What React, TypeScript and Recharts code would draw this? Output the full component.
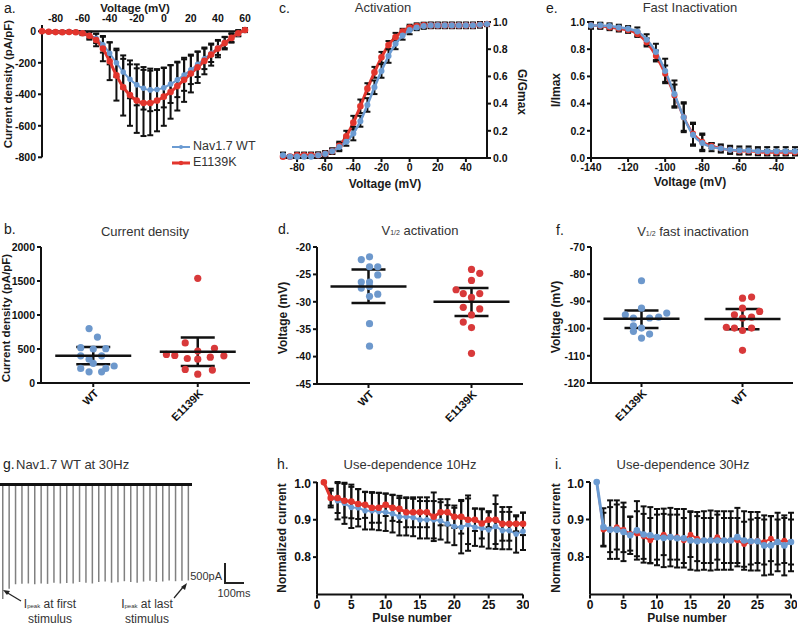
import React from "react";
import {
  LineChart,
  Line,
  XAxis,
  YAxis,
  ErrorBar,
  ScatterChart,
  Scatter,
  BarChart,
  Bar,
  ReferenceLine,
} from "recharts";

const BLUE = "#6b9bd2";
const RED = "#e2352d";
const DOT_BLUE = "#6d98cc";
const DOT_RED = "#d8393a";
const INK = "#111";
const FONT = "'Liberation Sans', Arial, Helvetica, sans-serif";

// a. current density vs voltage
const ivVoltage = [-90, -85, -80, -75, -70, -65, -60, -55, -50, -45, -40, -35, -30, -25, -20, -15, -10, -5, 0, 5, 10, 15, 20, 25, 30, 35, 40, 45, 50, 55, 60];
const ivWt = [0, -2, -3, -3, -2, -5, -10, -25, -45, -85, -140, -200, -258, -305, -340, -362, -372, -370, -358, -335, -308, -278, -245, -210, -175, -140, -105, -72, -42, -15, 5];
const ivWtSd = [0, 3, 4, 4, 4, 6, 10, 20, 30, 50, 70, 90, 105, 120, 130, 135, 135, 130, 125, 120, 110, 100, 90, 80, 65, 55, 45, 35, 25, 15, 10];
const ivMut = [0, -3, -5, -6, -4, -6, -12, -28, -55, -110, -190, -280, -355, -405, -440, -455, -455, -440, -415, -385, -348, -308, -268, -228, -188, -148, -110, -75, -42, -12, 8];
const ivMutSd = [0, 5, 6, 6, 5, 6, 12, 25, 40, 80, 120, 160, 180, 195, 205, 210, 205, 195, 185, 170, 155, 140, 120, 100, 85, 70, 55, 40, 30, 20, 12];

// c. activation
const actVoltage = [-90, -85, -80, -75, -70, -65, -60, -55, -50, -45, -40, -35, -30, -25, -20, -15, -10, -5, 0, 5, 10, 15, 20, 25, 30, 35, 40, 45, 50, 55];
const actWt = [0.02, 0.01, 0.01, 0.01, 0.01, 0.02, 0.03, 0.05, 0.08, 0.12, 0.18, 0.27, 0.39, 0.52, 0.64, 0.75, 0.84, 0.9, 0.94, 0.96, 0.97, 0.975, 0.975, 0.975, 0.975, 0.975, 0.975, 0.975, 0.98, 0.985];
const actWtSd = [0.02, 0.01, 0.01, 0.01, 0.01, 0.02, 0.02, 0.02, 0.03, 0.03, 0.05, 0.04, 0.05, 0.05, 0.05, 0.05, 0.04, 0.03, 0.03, 0.02, 0.02, 0.02, 0.02, 0.02, 0.02, 0.02, 0.02, 0.02, 0.02, 0.015];
const actMut = [0.01, 0.01, 0.02, 0.02, 0.02, 0.02, 0.03, 0.05, 0.09, 0.16, 0.26, 0.38, 0.51, 0.63, 0.74, 0.83, 0.89, 0.93, 0.96, 0.97, 0.975, 0.975, 0.975, 0.975, 0.975, 0.975, 0.975, 0.975, 0.98, 0.985];
const actMutSd = [0.01, 0.01, 0.02, 0.02, 0.02, 0.02, 0.02, 0.02, 0.03, 0.04, 0.05, 0.05, 0.04, 0.04, 0.04, 0.03, 0.03, 0.02, 0.02, 0.02, 0.02, 0.02, 0.02, 0.02, 0.02, 0.02, 0.02, 0.02, 0.02, 0.015];

// e. fast inactivation
const inVoltage = [-140, -135, -130, -125, -120, -115, -110, -105, -100, -95, -90, -85, -80, -75, -70, -65, -60, -55, -50, -45, -40, -35, -30];
const inWt = [0.975, 0.975, 0.97, 0.96, 0.95, 0.93, 0.87, 0.78, 0.64, 0.47, 0.3, 0.17, 0.11, 0.08, 0.07, 0.06, 0.055, 0.055, 0.05, 0.05, 0.05, 0.05, 0.05];
const inWtSd = [0.025, 0.02, 0.02, 0.02, 0.02, 0.03, 0.04, 0.06, 0.09, 0.1, 0.11, 0.08, 0.06, 0.03, 0.03, 0.03, 0.03, 0.03, 0.03, 0.03, 0.03, 0.03, 0.03];
const inMut = [0.975, 0.97, 0.96, 0.95, 0.94, 0.91, 0.85, 0.75, 0.62, 0.46, 0.3, 0.18, 0.12, 0.09, 0.07, 0.06, 0.05, 0.05, 0.045, 0.04, 0.04, 0.04, 0.04];
const inMutSd = [0.02, 0.02, 0.02, 0.02, 0.02, 0.02, 0.03, 0.04, 0.06, 0.08, 0.1, 0.08, 0.06, 0.02, 0.02, 0.02, 0.02, 0.02, 0.02, 0.02, 0.02, 0.02, 0.02];

// b. current density per cell, [x position, value]
const bCats = ["WT", "E1139K"];
const bWt = [[0.96, 800], [1.04, 675], [0.88, 520], [1.0, 500], [1.12, 505], [0.88, 400], [1.08, 400], [0.96, 350], [1.0, 290], [1.2, 250], [0.88, 215], [1.12, 215], [0.96, 165], [1.08, 165]];
const bMut = [[2.0, 1540], [1.88, 590], [2.16, 510], [1.7, 420], [1.78, 405], [2.0, 470], [2.25, 400], [2.12, 380], [1.9, 360], [2.0, 350], [1.88, 200], [2.14, 190], [2.0, 130]];
const bMean = [400, 460];
const bSdLow = [275, 250];
const bSdHigh = [530, 670];

// d. V1/2 activation
const dCats = ["WT", "E1139K"];
const dWt = [[0.93, -22.3], [1.01, -21.8], [1.01, -23.6], [1.09, -23.6], [1.09, -25.1], [0.93, -26.4], [1.01, -26.4], [0.93, -27.5], [1.01, -27.2], [1.01, -29.0], [1.09, -28.6], [1.01, -34.0], [1.01, -38.1]];
const dMut = [[2.0, -24.1], [2.08, -24.8], [2.0, -26.1], [1.85, -27.8], [1.92, -28.5], [2.08, -28.5], [2.0, -29.2], [1.92, -31.0], [2.08, -31.3], [2.0, -32.4], [1.92, -33.7], [2.0, -34.7], [2.0, -39.4]];
const dMean = [-27.2, -30.0];
const dSdLow = [-30.2, -32.6];
const dSdHigh = [-24.1, -27.5];

// f. V1/2 fast inactivation
const fCats = ["E1139K", "WT"];
const fFirst = [[1.0, -82.4], [1.0, -92.5], [0.84, -94.9], [1.25, -94.3], [0.92, -96.1], [1.08, -96.1], [1.17, -95.8], [0.92, -99.0], [1.0, -99.8], [0.92, -101.0], [1.08, -102.0], [1.0, -103.5]];
const fSecond = [[2.0, -88.8], [2.09, -88.4], [2.0, -92.5], [1.92, -94.9], [2.17, -93.7], [2.09, -95.8], [2.0, -96.1], [1.84, -99.5], [1.92, -99.8], [2.09, -99.8], [2.0, -100.7], [2.0, -108.0]];
const fMean = [-96.4, -96.5];
const fSdLow = [-99.8, -100.2];
const fSdHigh = [-93.3, -92.8];

// g. raw trace, peak current of each of the 30 pulses (pA)
const spikePeaks = [-3050, -2780, -2660, -2650, -2640, -2660, -2640, -2650, -2620, -2640, -2630, -2640, -2600, -2620, -2640, -2600, -2590, -2620, -2610, -2580, -2600, -2620, -2590, -2570, -2600, -2590, -2560, -2580, -2570, -2560];

// h / i. use-dependence
const pulses = [1, 2, 3, 4, 5, 6, 7, 8, 9, 10, 11, 12, 13, 14, 15, 16, 17, 18, 19, 20, 21, 22, 23, 24, 25, 26, 27, 28, 29, 30];
const hMut = [1.0, 0.958, 0.958, 0.951, 0.949, 0.942, 0.94, 0.932, 0.932, 0.94, 0.932, 0.929, 0.92, 0.92, 0.92, 0.92, 0.908, 0.92, 0.92, 0.908, 0.908, 0.9, 0.9, 0.89, 0.9, 0.9, 0.889, 0.889, 0.889, 0.889];
const hMutSd = [0, 0.025, 0.04, 0.045, 0.045, 0.04, 0.035, 0.04, 0.04, 0.03, 0.035, 0.035, 0.04, 0.04, 0.04, 0.04, 0.065, 0.035, 0.035, 0.03, 0.045, 0.065, 0.03, 0.04, 0.02, 0.065, 0.045, 0.045, 0.02, 0.03];
const hWt = [1.0, 0.958, 0.951, 0.944, 0.933, 0.932, 0.924, 0.924, 0.922, 0.92, 0.916, 0.908, 0.908, 0.906, 0.9, 0.9, 0.9, 0.897, 0.889, 0.882, 0.88, 0.887, 0.88, 0.878, 0.873, 0.882, 0.871, 0.871, 0.862, 0.869];
const hWtSd = [0, 0.02, 0.05, 0.055, 0.055, 0.05, 0.05, 0.05, 0.05, 0.05, 0.05, 0.05, 0.05, 0.05, 0.05, 0.05, 0.05, 0.05, 0.05, 0.05, 0.07, 0.07, 0.05, 0.05, 0.05, 0.06, 0.05, 0.05, 0.05, 0.05];
const iMut = [1.0, 0.873, 0.873, 0.88, 0.873, 0.862, 0.862, 0.855, 0.844, 0.853, 0.86, 0.853, 0.853, 0.844, 0.86, 0.849, 0.844, 0.844, 0.853, 0.844, 0.844, 0.844, 0.834, 0.84, 0.844, 0.84, 0.849, 0.84, 0.844, 0.84];
const iMutSd = [0, 0.045, 0.06, 0.06, 0.06, 0.045, 0.06, 0.06, 0.06, 0.06, 0.055, 0.06, 0.06, 0.06, 0.06, 0.06, 0.06, 0.06, 0.06, 0.06, 0.06, 0.06, 0.06, 0.06, 0.06, 0.06, 0.06, 0.06, 0.06, 0.06];
const iWt = [1.0, 0.88, 0.873, 0.873, 0.867, 0.858, 0.871, 0.86, 0.858, 0.853, 0.851, 0.853, 0.85, 0.85, 0.844, 0.842, 0.844, 0.844, 0.844, 0.844, 0.844, 0.853, 0.844, 0.842, 0.842, 0.831, 0.831, 0.84, 0.831, 0.84];
const iWtSd = [0, 0.05, 0.078, 0.078, 0.078, 0.05, 0.078, 0.075, 0.075, 0.075, 0.078, 0.078, 0.078, 0.078, 0.078, 0.078, 0.078, 0.08, 0.078, 0.078, 0.078, 0.078, 0.078, 0.078, 0.078, 0.08, 0.078, 0.078, 0.08, 0.078];

const ivData = ivVoltage.map((v, i) => ({ v, wt: ivWt[i], wtSd: ivWtSd[i], mut: ivMut[i], mutSd: ivMutSd[i] }));
const actData = actVoltage.map((v, i) => ({ v, wt: actWt[i], wtSd: actWtSd[i], mut: actMut[i], mutSd: actMutSd[i] }));
const inData = inVoltage.map((v, i) => ({ v, wt: inWt[i], wtSd: inWtSd[i], mut: inMut[i], mutSd: inMutSd[i] }));
const spikeData = spikePeaks.map((v, i) => ({ n: i + 1, v }));
const hData = pulses.map((p, i) => ({ p, wt: hWt[i], wtSd: hWtSd[i], mut: hMut[i], mutSd: hMutSd[i] }));
const iData = pulses.map((p, i) => ({ p, wt: iWt[i], wtSd: iWtSd[i], mut: iMut[i], mutSd: iMutSd[i] }));

const pts = (arr: number[][]) => arr.map(([x, y]) => ({ x, y }));
const means = (m: number[], lo: number[], hi: number[]) =>
  m.map((y, i) => ({ x: i + 1, y, err: [y - lo[i], hi[i] - y] }));

const PAD = 6;
function frame(x0: number, y0: number, x1: number, y1: number, axL: number, axR: number, axT: number, axB: number) {
  return {
    style: { position: "absolute" as const, left: x0 - axL - PAD, top: y0 - axT - PAD },
    width: x1 - x0 + axL + axR + 2 * PAD,
    height: y1 - y0 + axT + axB + 2 * PAD,
    margin: { top: PAD, right: PAD, bottom: PAD, left: PAD },
  };
}

const axisProps = {
  axisLine: { stroke: INK, strokeWidth: 2 },
  tickLine: { stroke: INK, strokeWidth: 2 },
  tickSize: 4,
  tick: { fontSize: 10.5, fontWeight: 700, fill: INK, fontFamily: FONT },
};
const errProps = { stroke: INK, strokeWidth: 2 };
const oneDec = (v: number) => v.toFixed(1);

function Txt(props: { x: number; y: number; children: React.ReactNode; size?: number; bold?: boolean; anchor?: "start" | "middle" | "end"; rotate?: number; color?: string }) {
  const { x, y, children, size = 12, bold = false, anchor = "start", rotate = 0, color = "#1a1a1a" } = props;
  const tx = anchor === "middle" || rotate !== 0 ? "-50%" : anchor === "end" ? "-100%" : "0";
  return (
    <div
      style={{
        position: "absolute",
        left: x,
        top: y,
        transform: `translate(${tx}, -50%) rotate(${rotate}deg)`,
        fontSize: size,
        fontWeight: bold ? 700 : 400,
        color,
        whiteSpace: "nowrap",
        lineHeight: 1.1,
      }}
    >
      {children}
    </div>
  );
}

const catTick = (names: string[]) => (props: any) => {
  const { x, y, payload } = props;
  const name = names[Math.round(payload.value) - 1];
  const ax = x + 6;
  const ay = y + 5;
  return (
    <text x={ax} y={ay} textAnchor="end" transform={`rotate(-45 ${ax} ${ay})`} fontSize={11} fontWeight={700} fill={INK} fontFamily={FONT}>
      {name}
    </text>
  );
};

const dotShape = (color: string) => (p: any) => <circle cx={p.cx} cy={p.cy} r={3.6} fill={color} />;
const meanShape = (p: any) => <line x1={p.cx - 38} x2={p.cx + 38} y1={p.cy} y2={p.cy} stroke={INK} strokeWidth={2.5} />;

function DotPlot(props: {
  f: ReturnType<typeof frame>;
  axW: number;
  domain: [number, number];
  ticks: number[];
  cats: string[];
  first: number[][];
  second: number[][];
  m: number[];
  lo: number[];
  hi: number[];
}) {
  const { f, axW, domain, ticks, cats, first, second, m, lo, hi } = props;
  return (
    <div style={f.style}>
      <ScatterChart width={f.width} height={f.height} margin={f.margin}>
        <XAxis type="number" dataKey="x" domain={[0.5, 2.5]} ticks={[1, 2]} height={45} {...axisProps} tick={catTick(cats)} />
        <YAxis type="number" dataKey="y" domain={domain} ticks={ticks} width={axW} {...axisProps} />
        <Scatter data={pts(first)} shape={dotShape(DOT_BLUE)} isAnimationActive={false} />
        <Scatter data={pts(second)} shape={dotShape(DOT_RED)} isAnimationActive={false} />
        <Scatter data={means(m, lo, hi)} shape={meanShape} isAnimationActive={false}>
          <ErrorBar dataKey="err" direction="y" width={17} stroke={INK} strokeWidth={2.5} />
        </Scatter>
      </ScatterChart>
    </div>
  );
}

function PulsePlot(props: { f: ReturnType<typeof frame>; axW: number; data: any[]; blueOnTop: boolean }) {
  const { f, axW, data, blueOnTop } = props;
  const wt = (
    <Line key="wt" type="linear" dataKey="wt" stroke={BLUE} strokeWidth={blueOnTop ? 3 : 2} dot={{ r: 1.8, fill: BLUE, stroke: BLUE }} isAnimationActive={false}>
      <ErrorBar dataKey="wtSd" width={3} {...errProps} />
    </Line>
  );
  const mut = (
    <Line key="mut" type="linear" dataKey="mut" stroke={RED} strokeWidth={blueOnTop ? 2 : 3} dot={{ r: 1.8, fill: RED, stroke: RED }} isAnimationActive={false}>
      <ErrorBar dataKey="mutSd" width={3} {...errProps} />
    </Line>
  );
  return (
    <div style={f.style}>
      <LineChart width={f.width} height={f.height} margin={f.margin} data={data}>
        <XAxis type="number" dataKey="p" domain={[0, 30]} ticks={[0, 5, 10, 15, 20, 25, 30]} height={22} {...axisProps} tick={{ ...axisProps.tick, fontSize: 12 }} />
        <YAxis type="number" domain={[0.7, 1]} ticks={[0.8, 0.9, 1.0]} tickFormatter={oneDec} width={axW} {...axisProps} tick={{ ...axisProps.tick, fontSize: 12 }} />
        {blueOnTop ? [mut, wt] : [wt, mut]}
      </LineChart>
    </div>
  );
}

export default function App() {
  const fa = frame(42, 24.7, 245, 157, 36, 0, 22, 0);
  const fc = frame(283, 22, 487, 158, 0, 36, 0, 22);
  const fe = frame(591, 22, 795, 158, 40, 0, 0, 22);
  const fb = frame(41, 247, 250, 383, 36, 0, 0, 45);
  const fd = frame(317, 247, 523, 384, 36, 0, 0, 45);
  const ff = frame(591, 247, 793, 383, 40, 0, 0, 45);
  const fh = frame(317, 482, 523, 594.5, 36, 0, 0, 22);
  const fi = frame(590, 482, 791, 594.5, 40, 0, 0, 22);

  return (
    <div style={{ position: "absolute", left: 0, top: 0, width: 800, height: 627, background: "#fff", fontFamily: FONT, overflow: "hidden" }}>
      {/* a */}
      <div style={fa.style}>
        <LineChart width={fa.width} height={fa.height} margin={fa.margin} data={ivData}>
          <XAxis type="number" dataKey="v" orientation="top" domain={[-90, 60]} ticks={[-80, -60, -40, -20, 0, 20, 40, 60]} height={22} {...axisProps} axisLine={false} tickLine={false} tickSize={0} tickMargin={3} />
          <YAxis type="number" domain={[-800, 40]} ticks={[0, -200, -400, -600, -800]} width={36} {...axisProps} />
          <ReferenceLine y={0} stroke={INK} strokeWidth={2} />
          <Line type="monotone" dataKey="wt" stroke={BLUE} strokeWidth={2} dot={{ r: 1.8, fill: BLUE, stroke: BLUE }} isAnimationActive={false}>
            <ErrorBar dataKey="wtSd" width={3} {...errProps} />
          </Line>
          <Line type="monotone" dataKey="mut" stroke={RED} strokeWidth={3} dot={{ r: 1.8, fill: RED, stroke: RED }} isAnimationActive={false}>
            <ErrorBar dataKey="mutSd" width={3} {...errProps} />
          </Line>
        </LineChart>
      </div>
      <Txt x={4} y={9} size={14}>a.</Txt>
      <Txt x={135} y={8} bold size={11.5} anchor="middle">Voltage (mV)</Txt>
      <Txt x={8} y={84} bold size={11.5} rotate={-90}>Current density (pA/pF)</Txt>
      <svg style={{ position: "absolute", left: 168, top: 138 }} width={26} height={32}>
        <line x1={4} x2={22} y1={9} y2={9} stroke={BLUE} strokeWidth={2} />
        <circle cx={13} cy={9} r={2} fill={BLUE} />
        <line x1={4} x2={22} y1={25} y2={25} stroke={RED} strokeWidth={3} />
        <circle cx={13} cy={25} r={2.2} fill={RED} />
      </svg>
      <Txt x={193} y={147} size={12.5} color="#333">Nav1.7 WT</Txt>
      <Txt x={193} y={163} size={12.5} color="#333">E1139K</Txt>

      {/* c */}
      <div style={fc.style}>
        <LineChart width={fc.width} height={fc.height} margin={fc.margin} data={actData}>
          <XAxis type="number" dataKey="v" domain={[-90, 55]} ticks={[-80, -60, -40, -20, 0, 20, 40]} height={22} {...axisProps} />
          <YAxis type="number" orientation="right" domain={[0, 1]} ticks={[0, 0.2, 0.4, 0.6, 0.8, 1]} tickFormatter={oneDec} width={36} {...axisProps} />
          <Line type="monotone" dataKey="mut" stroke={RED} strokeWidth={3} dot={{ r: 1.8, fill: RED, stroke: RED }} isAnimationActive={false}>
            <ErrorBar dataKey="mutSd" width={3} {...errProps} />
          </Line>
          <Line type="monotone" dataKey="wt" stroke={BLUE} strokeWidth={2.5} dot={{ r: 1.8, fill: BLUE, stroke: BLUE }} isAnimationActive={false}>
            <ErrorBar dataKey="wtSd" width={3} {...errProps} />
          </Line>
        </LineChart>
      </div>
      <Txt x={279} y={9} size={14}>c.</Txt>
      <Txt x={383} y={8} size={13} anchor="middle" color="#333">Activation</Txt>
      <Txt x={385} y={185} bold anchor="middle">Voltage (mV)</Txt>
      <Txt x={521} y={92} bold rotate={90}>G/Gmax</Txt>

      {/* e */}
      <div style={fe.style}>
        <LineChart width={fe.width} height={fe.height} margin={fe.margin} data={inData}>
          <XAxis type="number" dataKey="v" domain={[-140, -30]} ticks={[-140, -120, -100, -80, -60, -40]} height={22} {...axisProps} />
          <YAxis type="number" domain={[0, 1]} ticks={[0, 0.2, 0.4, 0.6, 0.8, 1]} tickFormatter={oneDec} width={40} {...axisProps} />
          <Line type="monotone" dataKey="mut" stroke={RED} strokeWidth={2.5} dot={{ r: 1.8, fill: RED, stroke: RED }} isAnimationActive={false}>
            <ErrorBar dataKey="mutSd" width={3} {...errProps} />
          </Line>
          <Line type="monotone" dataKey="wt" stroke={BLUE} strokeWidth={2.5} dot={{ r: 1.8, fill: BLUE, stroke: BLUE }} isAnimationActive={false}>
            <ErrorBar dataKey="wtSd" width={3} {...errProps} />
          </Line>
        </LineChart>
      </div>
      <Txt x={546} y={9} size={14}>e.</Txt>
      <Txt x={690} y={8} size={13} anchor="middle" color="#333">Fast Inactivation</Txt>
      <Txt x={690} y={183} bold anchor="middle">Voltage (mV)</Txt>
      <Txt x={557} y={90} bold rotate={-90}>I/Imax</Txt>

      {/* b */}
      <DotPlot f={fb} axW={36} domain={[0, 2000]} ticks={[0, 500, 1000, 1500, 2000]} cats={bCats} first={bWt} second={bMut} m={bMean} lo={bSdLow} hi={bSdHigh} />
      <Txt x={4} y={230} size={14}>b.</Txt>
      <Txt x={145} y={232} size={13} anchor="middle" color="#333">Current density</Txt>
      <Txt x={6} y={318} bold size={11.5} rotate={-90}>Current density (pA/pF)</Txt>

      {/* d */}
      <DotPlot f={fd} axW={36} domain={[-45, -20]} ticks={[-45, -40, -35, -30, -25, -20]} cats={dCats} first={dWt} second={dMut} m={dMean} lo={dSdLow} hi={dSdHigh} />
      <Txt x={278} y={230} size={14}>d.</Txt>
      <Txt x={420} y={231} size={13} anchor="middle" color="#333">
        V<span style={{ fontSize: 7 }}>1/2</span> activation
      </Txt>
      <Txt x={284} y={318} bold rotate={-90}>Voltage (mV)</Txt>

      {/* f */}
      <DotPlot f={ff} axW={40} domain={[-120, -70]} ticks={[-120, -110, -100, -90, -80, -70]} cats={fCats} first={fFirst} second={fSecond} m={fMean} lo={fSdLow} hi={fSdHigh} />
      <Txt x={556} y={231} size={14}>f.</Txt>
      <Txt x={693} y={232} size={13} anchor="middle" color="#333">
        V<span style={{ fontSize: 7 }}>1/2</span> fast inactivation
      </Txt>
      <Txt x={557} y={317} bold rotate={-90}>Voltage (mV)</Txt>

      {/* g */}
      <div style={{ position: "absolute", left: 0, top: 483 }}>
        <BarChart width={192} height={118} margin={{ top: 0, right: 0, bottom: 0, left: 0 }} data={spikeData}>
          <XAxis dataKey="n" hide />
          <YAxis type="number" domain={[-3100, 0]} hide />
          <Bar dataKey="v" fill="#808080" barSize={1.5} isAnimationActive={false} />
          <ReferenceLine y={0} stroke="#111" strokeWidth={6} />
        </BarChart>
      </div>
      <Txt x={3} y={465} size={14}>g.</Txt>
      <Txt x={16} y={465} size={13} color="#333">Nav1.7 WT at 30Hz</Txt>
      <div style={{ position: "absolute", left: 224, top: 563, width: 18, height: 19, borderLeft: "2px solid #222", borderBottom: "2px solid #222" }} />
      <Txt x={222} y={576} size={11} anchor="end" color="#333">500pA</Txt>
      <Txt x={234} y={593} size={11} anchor="middle" color="#333">100ms</Txt>
      <svg style={{ position: "absolute", left: 0, top: 580 }} width={200} height={30}>
        <line x1={21} y1={21} x2={6} y2={12} stroke="#222" strokeWidth={1.2} />
        <polygon points="3,10 10,11 7,15" fill="#222" />
        <line x1={174} y1={18} x2={184} y2={6} stroke="#222" strokeWidth={1.2} />
        <polygon points="187,3 185,10 181,7" fill="#222" />
      </svg>
      <div style={{ position: "absolute", left: 50, top: 598, transform: "translateX(-50%)", textAlign: "center", fontSize: 12, lineHeight: "13px", color: "#333", whiteSpace: "nowrap" }}>
        I<span style={{ fontSize: 6 }}>peak</span> at first
        <br />
        stimulus
      </div>
      <div style={{ position: "absolute", left: 147, top: 598, transform: "translateX(-50%)", textAlign: "center", fontSize: 12, lineHeight: "13px", color: "#333", whiteSpace: "nowrap" }}>
        I<span style={{ fontSize: 6 }}>peak</span> at last
        <br />
        stimulus
      </div>

      {/* h */}
      <PulsePlot f={fh} axW={36} data={hData} blueOnTop={false} />
      <Txt x={277} y={465} size={14}>h.</Txt>
      <Txt x={410} y={465} size={13} anchor="middle" color="#333">Use-dependence 10Hz</Txt>
      <Txt x={283} y={538} bold rotate={-90}>Normalized current</Txt>
      <Txt x={412} y={619} bold anchor="middle">Pulse number</Txt>

      {/* i */}
      <PulsePlot f={fi} axW={40} data={iData} blueOnTop={true} />
      <Txt x={555} y={465} size={14}>i.</Txt>
      <Txt x={683} y={465} size={13} anchor="middle" color="#333">Use-dependence 30Hz</Txt>
      <Txt x={557} y={538} bold rotate={-90}>Normalized current</Txt>
      <Txt x={687} y={619} bold anchor="middle">Pulse number</Txt>
    </div>
  );
}
